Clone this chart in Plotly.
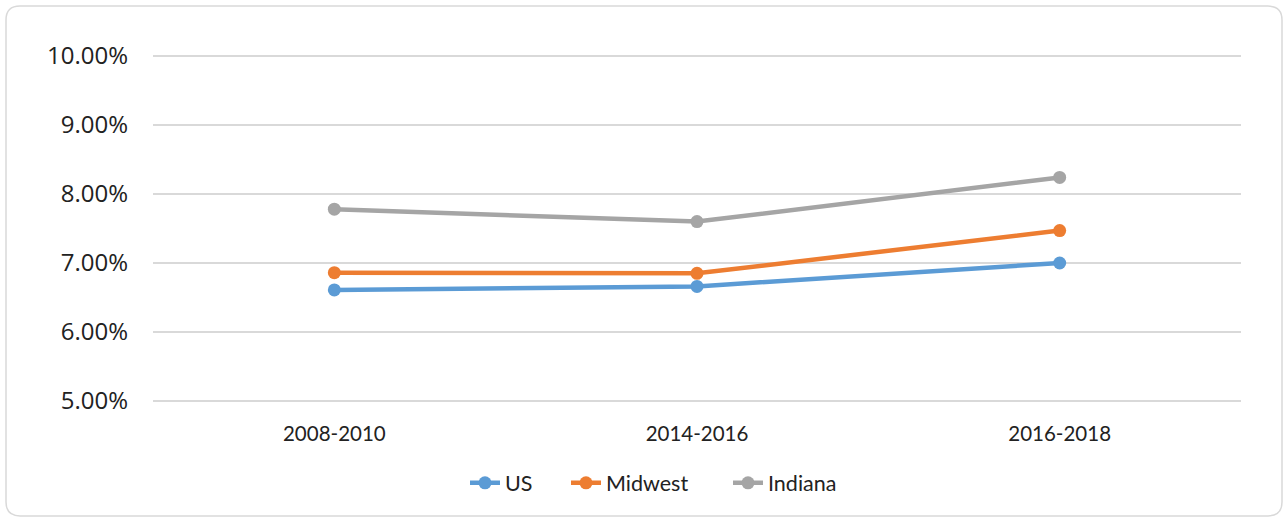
import plotly.graph_objects as go

categories = ["2008-2010", "2014-2016", "2016-2018"]
us = [6.61, 6.66, 7.00]
midwest = [6.86, 6.85, 7.47]
indiana = [7.78, 7.60, 8.24]
series_names = ["US", "Midwest", "Indiana"]
colors = ["#5B9BD5", "#ED7D31", "#A5A5A5"]
ytick_vals = [5, 6, 7, 8, 9, 10]
ytick_text = ["5.00%", "6.00%", "7.00%", "8.00%", "9.00%", "10.00%"]

W, H = 1288, 520
PAD = 0.03
YMIN, YMAX = 5 - PAD, 10 + PAD
L, R = 153, 47
T = 56 - PAD * 69
B = 119 - PAD * 69
legend_ids = ["legend", "legend2", "legend3"]
legend_left_px = [465, 566, 728]

fig = go.Figure()
for name, vals, c, lg in zip(series_names, [us, midwest, indiana], colors, legend_ids):
    fig.add_trace(go.Scatter(
        x=list(range(len(categories))), y=vals, name=name, mode="lines+markers",
        line=dict(color=c, width=4.5), marker=dict(color=c, size=13), legend=lg,
    ))

# rounded border in paper coordinates
pw, ph = W - L - R, H - T - B
def px(x):
    return (x - L) / pw
def py(y):
    return (H - B - y) / ph
x0, x1, y0, y1, r = 6, 1282, 6, 516, 14
path = (f"M {px(x0+r)},{py(y0)} L {px(x1-r)},{py(y0)} "
        f"Q {px(x1)},{py(y0)} {px(x1)},{py(y0+r)} "
        f"L {px(x1)},{py(y1-r)} Q {px(x1)},{py(y1)} {px(x1-r)},{py(y1)} "
        f"L {px(x0+r)},{py(y1)} Q {px(x0)},{py(y1)} {px(x0)},{py(y1-r)} "
        f"L {px(x0)},{py(y0+r)} Q {px(x0)},{py(y0)} {px(x0+r)},{py(y0)} Z")
fig.add_shape(type="path", path=path, xref="paper", yref="paper",
              line=dict(color="#D9D9D9", width=1.5), layer="below")

legend_font = dict(family="Lato, Open Sans, sans-serif", size=21.5, color="#222")
legends = {}
for lg, lx in zip(legend_ids, legend_left_px):
    legends[lg] = dict(orientation="h", x=px(lx), xanchor="left",
                       y=py(483), yanchor="middle", font=legend_font,
                       bgcolor="rgba(0,0,0,0)")

fig.update_layout(
    width=W, height=H, autosize=False,
    margin=dict(l=L, r=R, t=T, b=B, autoexpand=False),
    paper_bgcolor="white", plot_bgcolor="white",
    showlegend=True,
    **legends,
)
fig.update_xaxes(
    range=[-0.5, 2.5], tickmode="array", tickvals=list(range(len(categories))),
    ticktext=categories, showgrid=False, zeroline=False, showline=False,
    ticks="", ticklabelstandoff=16, automargin=False,
    tickfont=dict(family="Lato, Open Sans, sans-serif", size=20.5, color="#222"),
)
fig.update_yaxes(
    range=[YMIN, YMAX], tickmode="array", tickvals=ytick_vals, ticktext=ytick_text,
    showgrid=True, gridcolor="#D9D9D9", gridwidth=1.5, zeroline=False,
    showline=False, ticks="", ticklabelstandoff=24, automargin=False,
    tickfont=dict(family="Open Sans, sans-serif", size=24, color="#222"),
)
fig.write_html("out.html", config={"displayModeBar": False},
               post_script="document.body.style.margin='0';")
